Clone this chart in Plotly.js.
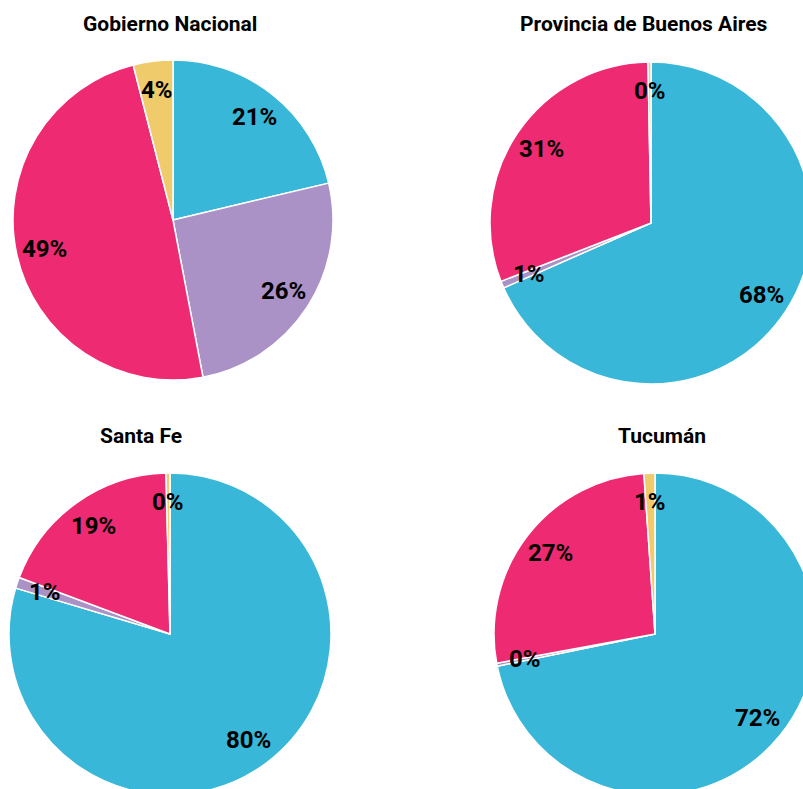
<!DOCTYPE html>
<html><head><meta charset="utf-8">
<script src="https://cdn.plot.ly/plotly-3.0.1.min.js"></script>
<style>
html,body{margin:0;padding:0;overflow:hidden;background:#fff}
#wrap{width:803px;height:789px;overflow:hidden;position:relative}
#chart{width:840px;height:820px}
</style>
</head><body><div id="wrap"><div id="chart"></div></div>
<script>
// ---- data ----
const categories = ['Categoría 1', 'Categoría 2', 'Categoría 3', 'Categoría 4'];
const colors = ['#38B7D8', '#AB92C6', '#EE2B72', '#F0CB6B'];
const regions = ['Gobierno Nacional', 'Provincia de Buenos Aires', 'Santa Fe', 'Tucumán'];
const gobiernoNacional = [21.3, 25.7, 49.0, 4.0];
const buenosAires = [68.4, 0.7, 30.6, 0.3];
const santaFe = [79.6, 1.1, 18.9, 0.4];
const tucuman = [71.8, 0.3, 26.8, 1.1];
const seriesValues = [gobiernoNacional, buenosAires, santaFe, tucuman];

// ---- layout geometry (pixels) ----
const W = 840, H = 820;
const pieGeom = [
  {cx: 173, cy: 220, r: 160, tx: 170, ty: 24},
  {cx: 651, cy: 223, r: 161, tx: 644, ty: 24},
  {cx: 170, cy: 634, r: 161, tx: 141, ty: 436},
  {cx: 655, cy: 634, r: 161, tx: 662, ty: 436}
];
const labelFrac = 0.82;

const traces = [];
const annotations = [];
seriesValues.forEach((vals, i) => {
  const g = pieGeom[i];
  traces.push({
    type: 'pie',
    labels: categories,
    values: vals,
    sort: false,
    direction: 'clockwise',
    rotation: 0,
    textinfo: 'none',
    hoverinfo: 'label+percent',
    marker: {colors: colors, line: {color: '#ffffff', width: 1.5}},
    domain: {x: [(g.cx - g.r) / W, (g.cx + g.r) / W], y: [1 - (g.cy + g.r) / H, 1 - (g.cy - g.r) / H]},
    showlegend: false
  });
  annotations.push({
    text: regions[i], xref: 'paper', yref: 'paper', x: g.tx / W, y: 1 - g.ty / H,
    xanchor: 'center', yanchor: 'middle', showarrow: false,
    font: {family: 'Roboto', size: 21, color: '#000', weight: 700}
  });
  const total = vals.reduce((a, b) => a + b, 0);
  let cum = 0;
  vals.forEach(v => {
    const mid = (cum + v / 2) / total * 2 * Math.PI;
    cum += v;
    const px = g.cx + labelFrac * g.r * Math.sin(mid);
    const py = g.cy - labelFrac * g.r * Math.cos(mid);
    annotations.push({
      text: Math.round(v / total * 100) + '%', xref: 'paper', yref: 'paper',
      x: px / W, y: 1 - py / H, xanchor: 'center', yanchor: 'middle', showarrow: false,
      font: {family: 'Roboto', size: 24, color: '#000', weight: 700}
    });
  });
});

Plotly.newPlot('chart', traces, {
  width: W, height: H,
  margin: {l: 0, r: 0, t: 0, b: 0},
  paper_bgcolor: '#ffffff',
  annotations: annotations
}, {staticPlot: true});
</script>
</body></html>
